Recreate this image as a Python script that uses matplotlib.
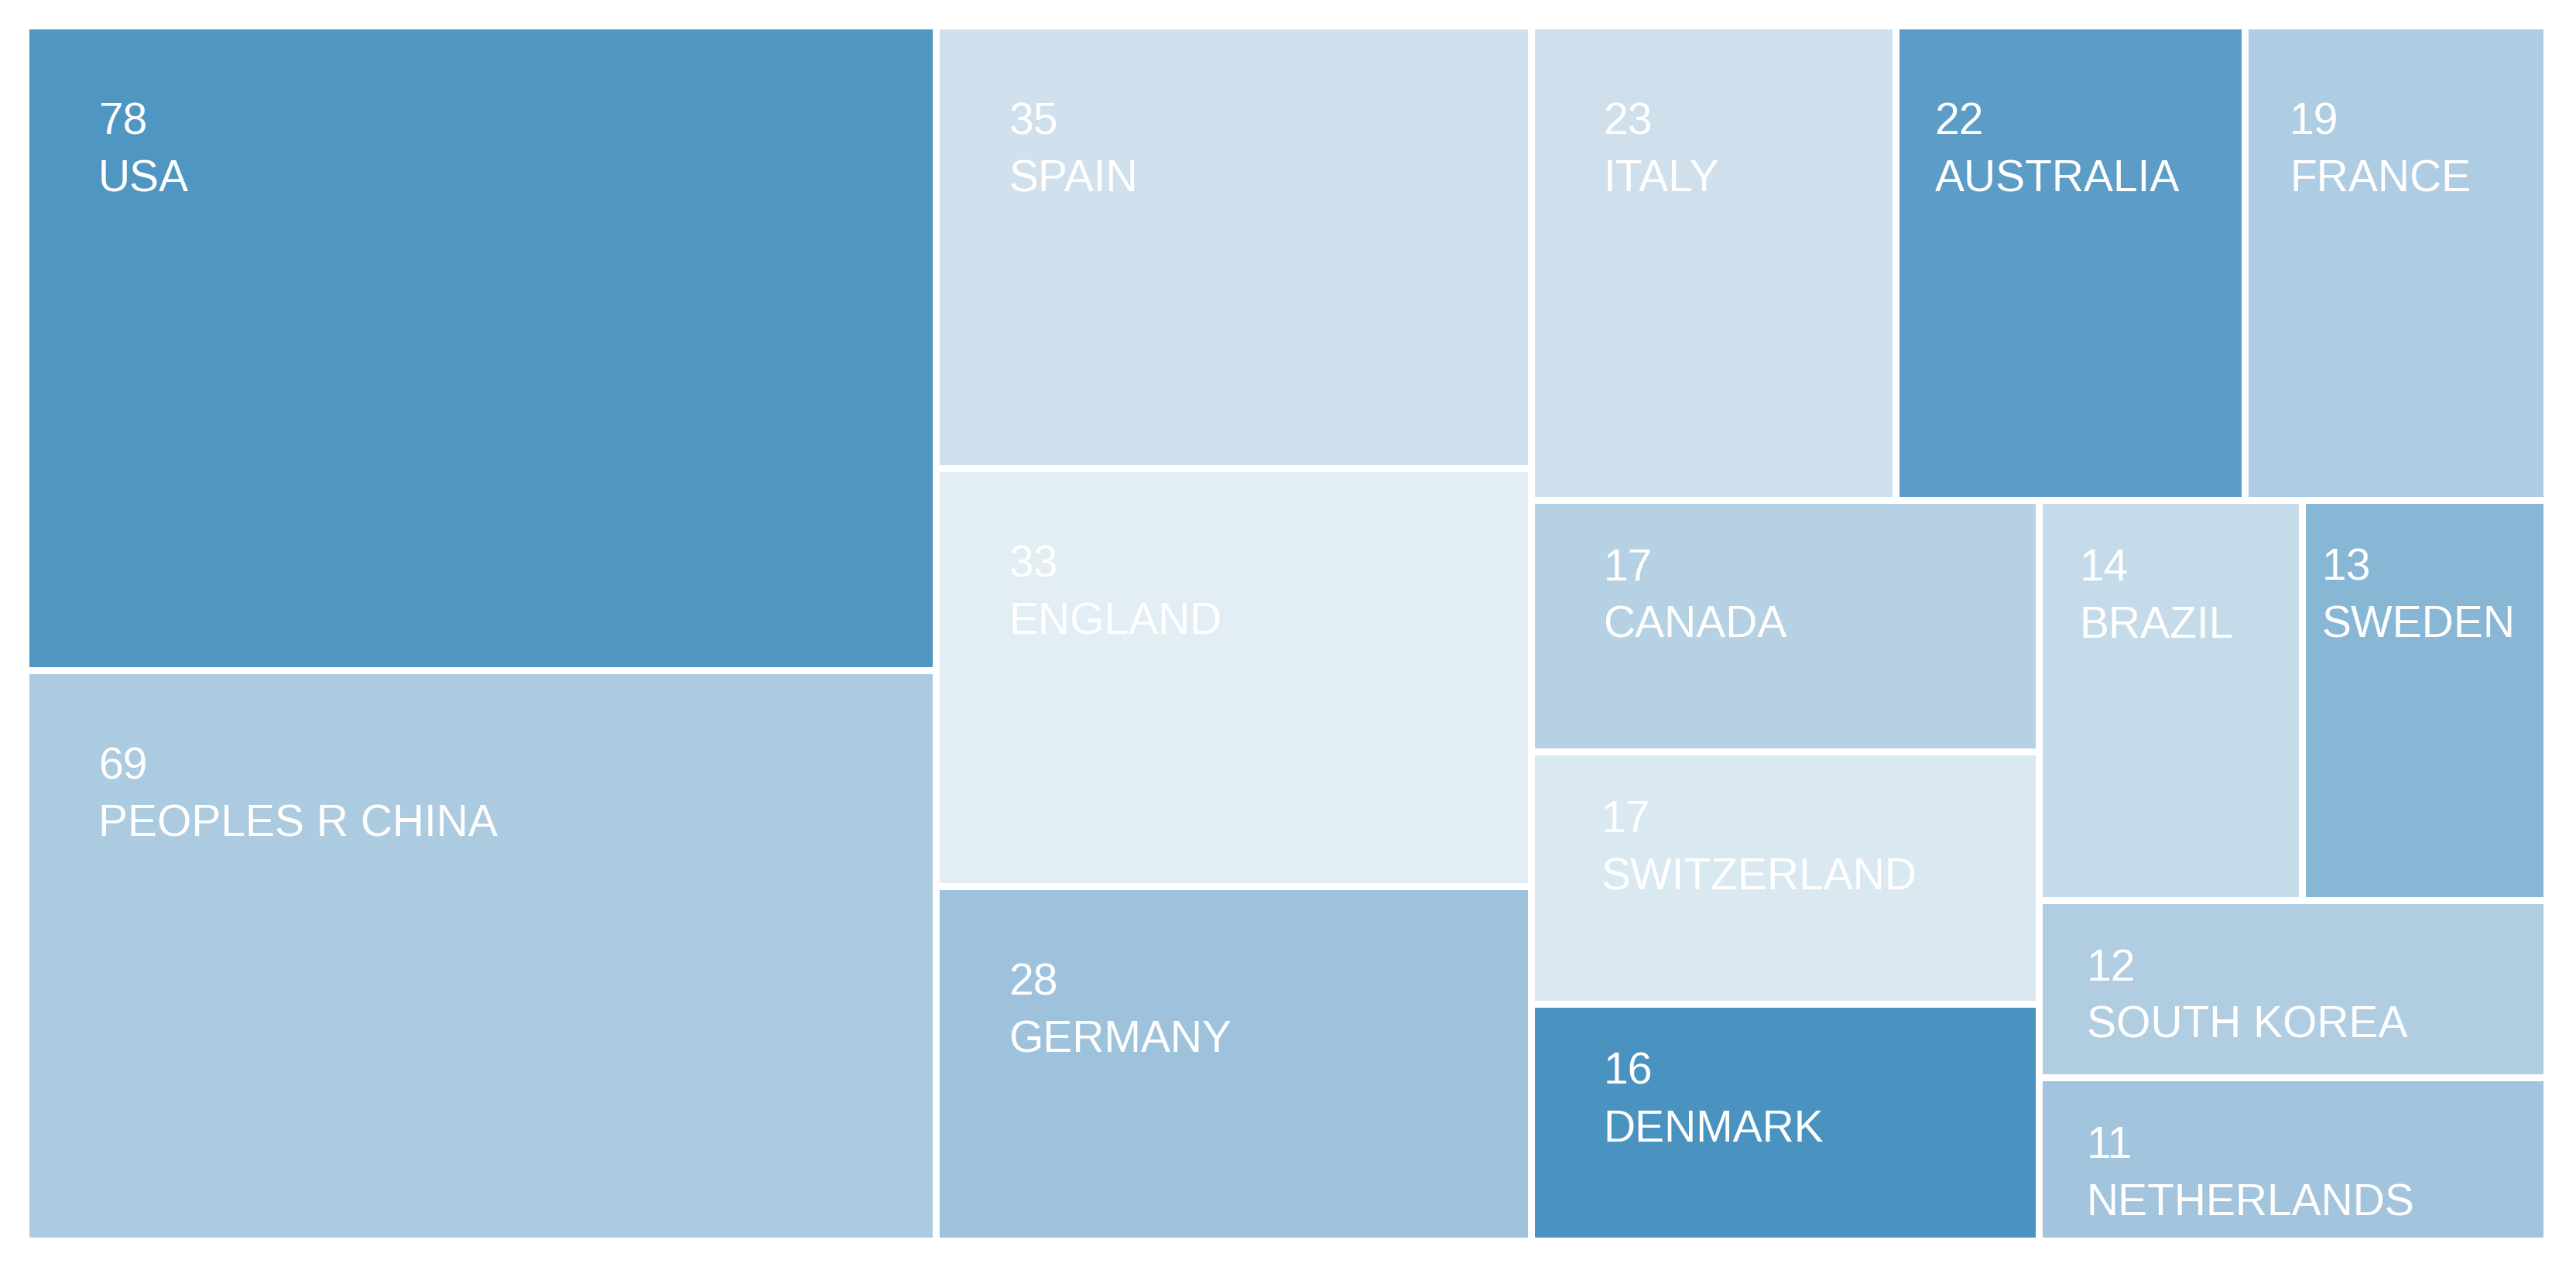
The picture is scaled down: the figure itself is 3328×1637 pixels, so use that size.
import matplotlib
matplotlib.use("Agg")
import matplotlib.pyplot as plt
from matplotlib.patches import Rectangle

# --- data ---
countries = ["USA", "PEOPLES R CHINA", "SPAIN", "ENGLAND", "GERMANY",
             "ITALY", "AUSTRALIA", "FRANCE", "CANADA", "SWITZERLAND",
             "DENMARK", "BRAZIL", "SWEDEN", "SOUTH KOREA", "NETHERLANDS"]
counts = [78, 69, 35, 33, 28, 23, 22, 19, 17, 17, 16, 14, 13, 12, 11]
tile_colors = ["#4F96C2", "#ACCBE0", "#D0E1ED", "#E2EDF4", "#9FC2DC",
               "#CFE0EC", "#5B9DC7", "#AFCDE2", "#B5D1E3", "#D9E8F1",
               "#4A93C0", "#C5DBE9", "#88B6D5", "#B0CDE2", "#A2C4DD"]

W, H, DPI = 3328, 1637, 200
PHI = (1 + 5 ** 0.5) / 2
GAP = 9


def squarify(values, x0, y0, x1, y1, ratio=PHI):
    # same idea as d3.treemapSquarify (golden ratio target)
    rects = []
    n = len(values)
    total = float(sum(values))
    i0 = i1 = 0
    while i0 < n:
        dx, dy = x1 - x0, y1 - y0
        s = values[i1]
        i1 += 1
        vmin = vmax = s
        alpha = max(dy / dx, dx / dy) / (total * ratio)
        beta = s * s * alpha
        best = max(vmax / beta, beta / vmin)
        while i1 < n:
            v = values[i1]
            s2 = s + v
            lo, hi = min(vmin, v), max(vmax, v)
            beta = s2 * s2 * alpha
            r = max(hi / beta, beta / lo)
            if r > best:
                break
            s, vmin, vmax, best = s2, lo, hi, r
            i1 += 1
        row = values[i0:i1]
        if dx < dy:
            yb = y0 + dy * s / total
            xx = x0
            for v in row:
                w = dx * v / s
                rects.append((xx, y0, w, yb - y0))
                xx += w
            y0 = yb
        else:
            xb = x0 + dx * s / total
            yy = y0
            for v in row:
                h = dy * v / s
                rects.append((x0, yy, xb - x0, h))
                yy += h
            x0 = xb
        total -= s
        i0 = i1
    return rects


fig = plt.figure(figsize=(W / DPI, H / DPI), dpi=DPI)
ax = fig.add_axes([0, 0, 1, 1])
ax.set_xlim(0, W)
ax.set_ylim(H, 0)
ax.axis("off")

left, top, right, bottom = 38, 38, 3286, 1599
plot_area = (right - left) * (bottom - top)
rects = squarify(counts, left - GAP / 2, top - GAP / 2, right + GAP / 2, bottom + GAP / 2)

renderer = fig.canvas.get_renderer()
font = dict(family=["Liberation Sans", "DejaVu Sans"], size=20.5, color="white")

for (x, y, w, h), name, val, col in zip(rects, countries, counts, tile_colors):
    ax.add_patch(Rectangle((x + GAP / 2, y + GAP / 2), w - GAP, h - GAP,
                           facecolor=col, edgecolor="none"))
    tx, ty = x + GAP / 2, y + GAP / 2
    tw, th = w - GAP, h - GAP
    big = tw * th > 0.044 * plot_area
    t_num = ax.text(0, 0, str(val), va="baseline", ha="left", **font)
    t_name = ax.text(0, 0, name, va="baseline", ha="left", **font)
    text_w = max(t_num.get_window_extent(renderer).width,
                 t_name.get_window_extent(renderer).width)
    cap = 89 if th > 250 else 57
    pad_x = max(10, min(cap, 0.36 * (tw - text_w)))
    pad_y = 93 if big else 57
    base = ty + pad_y + 42
    t_num.set_position((tx + pad_x, base))
    t_name.set_position((tx + pad_x, base + 74))

fig.savefig("out.png", dpi=DPI, facecolor="white")
